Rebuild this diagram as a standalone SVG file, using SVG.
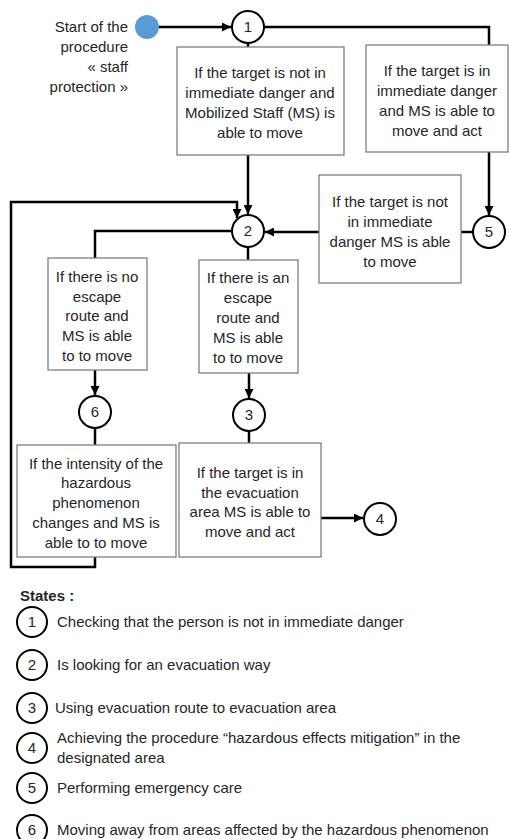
<svg xmlns="http://www.w3.org/2000/svg" width="509" height="839" viewBox="0 0 509 839">
<style>
  text { font-family: "Liberation Sans", Arial, sans-serif; font-size: 15px; fill: #262626; }
  .c { text-anchor: middle; }
  .box { fill: #ffffff; stroke: #7f7f7f; stroke-width: 1.3; }
  .st { fill: #ffffff; stroke: #000000; stroke-width: 2; }
  .num { text-anchor: middle; font-size: 15px; fill: #262626; }
  .conn { fill: none; stroke: #000000; stroke-width: 2.5; }
  .lg { fill: none; stroke: #000000; stroke-width: 2; }
</style>
<defs>
  <marker id="arr" markerUnits="userSpaceOnUse" markerWidth="9" markerHeight="9" viewBox="0 0 10 10" refX="10" refY="5" orient="auto">
    <path d="M0,0 L10,5 L0,10 z" fill="#000000"/>
  </marker>
</defs>

<g id="connectors">
  <line class="conn" x1="159" y1="27" x2="231" y2="27" marker-end="url(#arr)"/>
  <line class="conn" x1="248" y1="43" x2="248" y2="47"/>
  <polyline class="conn" points="264,27 489,27 489,45"/>
  <line class="conn" x1="489" y1="152" x2="489" y2="215" marker-end="url(#arr)"/>
  <line class="conn" x1="248" y1="155" x2="248" y2="214" marker-end="url(#arr)"/>
  <line class="conn" x1="473" y1="232" x2="461" y2="232"/>
  <line class="conn" x1="319" y1="232" x2="265" y2="232" marker-end="url(#arr)"/>
  <polyline class="conn" points="232,231 95,231 95,258"/>
  <line class="conn" x1="248" y1="247" x2="248" y2="260"/>
  <line class="conn" x1="95" y1="370" x2="95" y2="395" marker-end="url(#arr)"/>
  <line class="conn" x1="249" y1="373" x2="249" y2="398" marker-end="url(#arr)"/>
  <line class="conn" x1="95" y1="428" x2="95" y2="445"/>
  <line class="conn" x1="249" y1="431" x2="249" y2="443"/>
  <line class="conn" x1="321" y1="518" x2="363" y2="518" marker-end="url(#arr)"/>
  <polyline class="conn" points="95,557 95,567 11,567 11,202 237,202 237,218" marker-end="url(#arr)"/>
</g>

<g id="start">
  <circle cx="147" cy="27" r="12" fill="#5b9bd5"/>
  <text x="128" y="32" text-anchor="end">Start of the</text>
  <text x="128" y="52" text-anchor="end">procedure</text>
  <text x="128" y="72" text-anchor="end">« staff</text>
  <text x="128" y="92" text-anchor="end">protection »</text>
</g>

<g id="s1"><circle class="st" cx="248" cy="27" r="16"/><text class="num" x="248" y="32">1</text></g>
<g id="s2"><circle class="st" cx="248" cy="231" r="16"/><text class="num" x="248" y="236">2</text></g>
<g id="s3"><circle class="st" cx="249" cy="415" r="16"/><text class="num" x="249" y="420">3</text></g>
<g id="s4"><circle class="st" cx="380" cy="519" r="16"/><text class="num" x="380" y="524">4</text></g>
<g id="s5"><circle class="st" cx="489" cy="232" r="16"/><text class="num" x="489" y="237">5</text></g>
<g id="s6"><circle class="st" cx="95" cy="412" r="16"/><text class="num" x="95" y="417">6</text></g>

<g id="boxA">
  <rect class="box" x="177" y="47" width="167" height="108"/>
  <text class="c" x="260" y="78">If the target is not in</text>
  <text class="c" x="260" y="98">immediate danger and</text>
  <text class="c" x="260" y="118">Mobilized Staff (MS) is</text>
  <text class="c" x="260" y="138">able to move</text>
</g>
<g id="boxB">
  <rect class="box" x="366" y="45" width="142" height="107"/>
  <text class="c" x="437" y="76">If the target is in</text>
  <text class="c" x="437" y="96">immediate danger</text>
  <text class="c" x="437" y="116">and MS is able to</text>
  <text class="c" x="437" y="136">move and act</text>
</g>
<g id="boxC">
  <rect class="box" x="319" y="175" width="142" height="108"/>
  <text class="c" x="390" y="207">If the target is not</text>
  <text class="c" x="390" y="227">in immediate</text>
  <text class="c" x="390" y="247">danger MS is able</text>
  <text class="c" x="390" y="267">to move</text>
</g>
<g id="boxD">
  <rect class="box" x="48" y="258" width="99" height="112"/>
  <text class="c" x="97" y="282">If there is no</text>
  <text class="c" x="97" y="302">escape</text>
  <text class="c" x="97" y="321">route and</text>
  <text class="c" x="97" y="341">MS is able</text>
  <text class="c" x="97" y="361">to to move</text>
</g>
<g id="boxE">
  <rect class="box" x="199" y="260" width="99" height="113"/>
  <text class="c" x="248" y="283">If there is an</text>
  <text class="c" x="248" y="303">escape</text>
  <text class="c" x="248" y="323">route and</text>
  <text class="c" x="248" y="343">MS is able</text>
  <text class="c" x="248" y="363">to to move</text>
</g>
<g id="boxF">
  <rect class="box" x="17" y="445" width="159" height="112"/>
  <text class="c" x="96" y="469">If the intensity of the</text>
  <text class="c" x="96" y="488">hazardous</text>
  <text class="c" x="96" y="508">phenomenon</text>
  <text class="c" x="96" y="528">changes and MS is</text>
  <text class="c" x="96" y="548">able to to move</text>
</g>
<g id="boxG">
  <rect class="box" x="179" y="443" width="142" height="114"/>
  <text class="c" x="250" y="478">If the target is in</text>
  <text class="c" x="250" y="498">the evacuation</text>
  <text class="c" x="250" y="517">area MS is able to</text>
  <text class="c" x="250" y="537">move and act</text>
</g>

<g id="legend">
  <text x="20" y="601" font-weight="bold" font-size="13">States :</text>
  <circle class="lg" cx="32" cy="622" r="15"/><text class="num" x="32" y="627">1</text>
  <text x="57" y="627">Checking that the person is not in immediate danger</text>
  <circle class="lg" cx="32" cy="665" r="15"/><text class="num" x="32" y="670">2</text>
  <text x="57" y="670">Is looking for an evacuation way</text>
  <circle class="lg" cx="32" cy="708" r="15"/><text class="num" x="32" y="713">3</text>
  <text x="55" y="713">Using evacuation route to evacuation area</text>
  <circle class="lg" cx="32" cy="748" r="15"/><text class="num" x="32" y="753">4</text>
  <text x="57" y="743">Achieving the procedure “hazardous effects mitigation” in the</text>
  <text x="57" y="763">designated area</text>
  <circle class="lg" cx="32" cy="788" r="15"/><text class="num" x="32" y="793">5</text>
  <text x="57" y="793">Performing emergency care</text>
  <circle class="lg" cx="32" cy="830" r="15"/><text class="num" x="32" y="835">6</text>
  <text x="57" y="835">Moving away from areas affected by the hazardous phenomenon</text>
</g>
</svg>
